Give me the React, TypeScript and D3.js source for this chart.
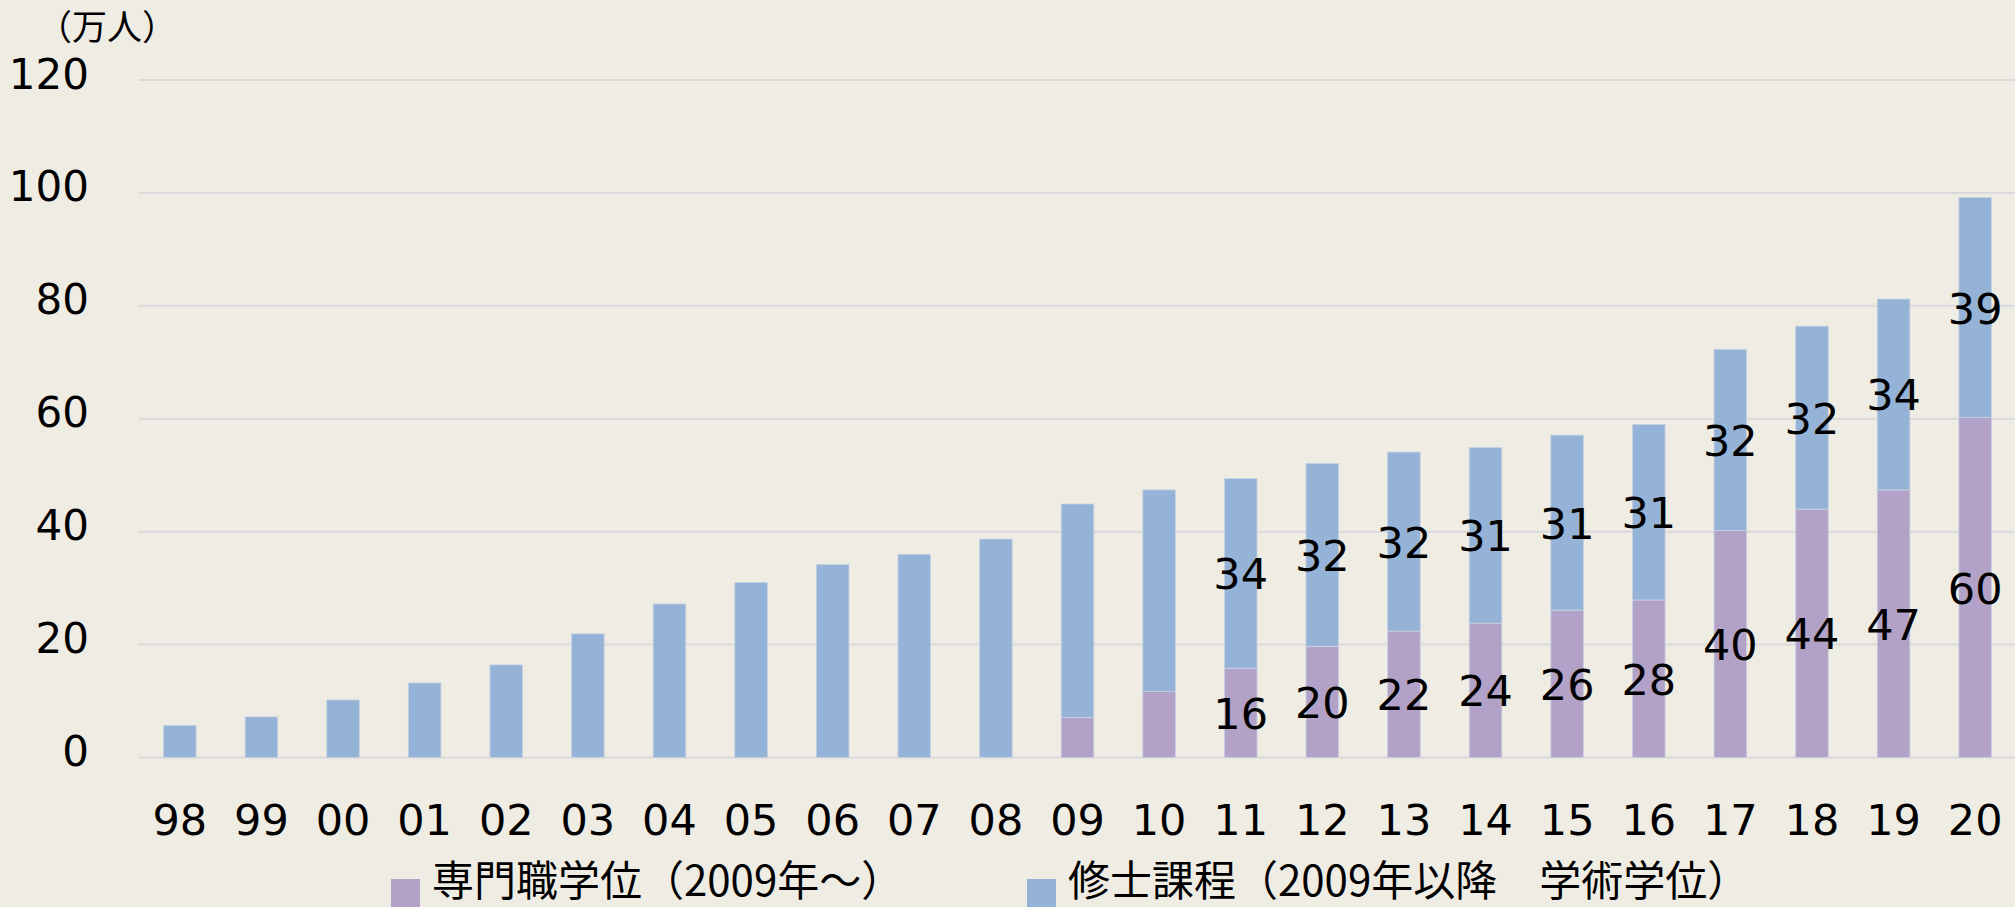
import React from 'react';
import * as d3 from 'd3';

// 年度（西暦下2桁）
const years = ['98', '99', '00', '01', '02', '03', '04', '05', '06', '07', '08', '09', '10', '11', '12', '13', '14', '15', '16', '17', '18', '19', '20'];
// 専門職学位（2009年～）, 万人
const professional = [0, 0, 0, 0, 0, 0, 0, 0, 0, 0, 0, 7.1, 11.7, 15.8, 19.7, 22.4, 23.8, 26.1, 27.9, 40.2, 44.0, 47.4, 60.2];
// 修士課程（2009年以降 学術学位）, 万人
const master = [5.7, 7.2, 10.2, 13.2, 16.4, 21.9, 27.2, 31.0, 34.2, 36.0, 38.7, 37.8, 35.7, 33.6, 32.4, 31.7, 31.1, 31.0, 31.1, 32.1, 32.4, 33.8, 39.0];
// years that carry data labels
const labeledYears = ['11', '12', '13', '14', '15', '16', '17', '18', '19', '20'];
const yTicks = [0, 20, 40, 60, 80, 100, 120];

const seriesNames = ['専門職学位（2009年～）', '修士課程（2009年以降　学術学位）'];
const colors = ['#b3a2c7', '#95b3d7'];

const W = 2015;
const H = 907;
const margin = { left: 139, right: 2016, top: 80, bottom: 757.5 };
const numFont = "'DejaVu Sans', 'Noto Sans CJK JP', sans-serif";
const jpFont = "'Noto Sans CJK JP', sans-serif";

const App = () => {
  const x = d3.scaleBand<string>()
    .domain(years)
    .range([margin.left, margin.right])
    .paddingInner(0.6)
    .paddingOuter(0.3);

  const y = d3.scaleLinear()
    .domain([0, 120])
    .range([margin.bottom, margin.top]);

  const rows = years.map((yr, i) => ({ year: yr, professional: professional[i], master: master[i] }));
  const stacked = d3.stack<any>().keys(['professional', 'master'])(rows);

  return (
    <svg
      width={W}
      height={H}
      style={{ position: 'absolute', left: 0, top: 0, display: 'block', background: '#efece4' }}
    >
      <rect x={0} y={0} width={W} height={H} fill="#efece4" />

      {/* unit */}
      <text x={37} y={40} fontFamily={jpFont} fontSize={35} fill="#000">（万人）</text>

      {/* grid + y ticks */}
      {yTicks.map(t => (
        <g key={t}>
          <line x1={margin.left} x2={W} y1={y(t)} y2={y(t)} stroke="#d9d9dc" strokeWidth={2} />
          <text x={89} y={y(t) + 8.5} textAnchor="end" fontFamily={numFont} fontSize={42} fill="#000">{t}</text>
        </g>
      ))}

      {/* bars */}
      {stacked.map((layer, li) => (
        <g key={layer.key}>
          {layer.map((d, i) => (
            d[1] - d[0] > 0 ? (
              <rect
                key={years[i]}
                x={x(years[i])}
                y={y(d[1])}
                width={x.bandwidth()}
                height={y(d[0]) - y(d[1])}
                fill={colors[li]}
                stroke="#c9d3e2"
                strokeWidth={0.8}
              />
            ) : null
          ))}
        </g>
      ))}

      {/* data labels */}
      {stacked.map(layer => (
        <g key={'lbl' + layer.key}>
          {layer.map((d, i) => (
            labeledYears.includes(years[i]) ? (
              <text
                key={years[i]}
                x={(x(years[i]) as number) + x.bandwidth() / 2}
                y={y((d[0] + d[1]) / 2) + 16}
                textAnchor="middle"
                fontFamily={numFont}
                fontSize={43}
                fill="#000"
              >
                {Math.round(d[1] - d[0])}
              </text>
            ) : null
          ))}
        </g>
      ))}

      {/* x labels */}
      {years.map(yr => (
        <text
          key={yr}
          x={(x(yr) as number) + x.bandwidth() / 2}
          y={835}
          textAnchor="middle"
          fontFamily={numFont}
          fontSize={43}
          fill="#000"
        >
          {yr}
        </text>
      ))}

      {/* legend */}
      <rect x={391} y={879} width={29} height={30} fill={colors[0]} />
      <text x={432} y={896} fontFamily={jpFont} fontSize={42} fill="#000">{seriesNames[0]}</text>
      <rect x={1027} y={879} width={29} height={30} fill={colors[1]} />
      <text x={1068} y={896} fontFamily={jpFont} fontSize={42} fill="#000">{seriesNames[1]}</text>
    </svg>
  );
};

export default App;
